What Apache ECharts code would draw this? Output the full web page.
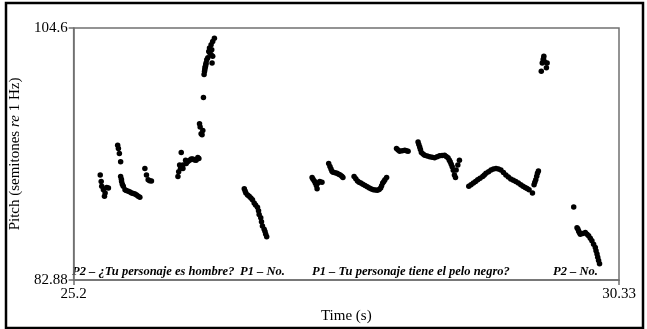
<!DOCTYPE html>
<html><head><meta charset="utf-8">
<script src="https://cdn.jsdelivr.net/npm/echarts@6/dist/echarts.min.js"></script>
<style>html,body{margin:0;padding:0;background:#fff}#c{width:647px;height:329px}</style>
</head><body><div id="c"></div>
<script>
// Time (s) and pitch (semitones re 1 Hz), one array pair per voiced stretch
const segA_t = [25.450,25.459,25.464,25.480,25.496,25.490,25.511,25.527];
const segA_p = [91.93,91.37,90.95,90.66,90.38,90.09,90.86,90.80];
const segB_t = [25.614,25.621,25.630,25.642,25.642,25.649,25.651,25.658,25.667,25.683,25.695,25.714,25.730,25.745,25.761,25.777,25.792,25.807,25.823];
const segB_p = [94.49,94.21,93.78,93.08,91.80,91.57,91.37,91.14,90.95,90.66,90.59,90.52,90.46,90.38,90.33,90.29,90.20,90.09,90.01];
const segC_t = [25.870,25.885,25.901,25.915,25.932];
const segC_p = [92.50,91.93,91.51,91.44,91.42];
const segD_t = [26.212,26.181,26.188,26.197,26.205,26.228,26.228,26.253,26.259,26.275,26.291,26.306,26.321,26.337,26.352,26.368,26.378,26.399,26.390,26.384,26.415,26.408,26.421,
  26.427,26.431,26.434,26.436,26.440,26.443,26.446,26.452,26.462,26.471,26.478,26.493,26.493,26.508,26.502,26.508,26.524,26.480,26.499];
const segD_p = [93.87,91.80,92.22,92.79,92.50,92.79,92.50,93.21,92.93,93.10,93.21,93.31,93.30,93.23,93.21,93.44,93.36,95.49,96.06,96.34,95.77,95.40,98.61,
  100.60,100.85,101.02,101.19,101.30,101.45,101.59,101.87,102.04,102.58,102.87,103.15,102.30,102.16,101.59,103.43,103.72,102.47,102.73];
const segE_t = [26.805,26.813,26.820,26.836,26.851,26.867,26.882,26.898,26.911,26.929,26.939,26.945,26.960,26.967,26.976,26.992,27.000,27.007,27.016];
const segE_p = [90.74,90.55,90.38,90.20,90.09,89.95,89.80,89.52,89.35,89.16,88.84,88.53,88.25,87.90,87.54,87.25,87.05,86.82,86.60];
const segF_t = [27.443,27.452,27.464,27.473,27.483,27.490,27.499,27.515,27.536,27.599,27.611,27.621,27.630,27.640,27.659,27.677,27.693,27.708,27.723,27.733];
const segF_p = [91.71,91.57,91.42,91.23,91.03,90.74,91.23,91.37,91.31,92.93,92.67,92.44,92.25,92.16,92.12,92.08,91.99,91.93,91.82,91.71];
const segG_t = [27.838,27.854,27.870,27.885,27.901,27.920,27.941,27.962,27.982,28.001,28.020,28.039,28.057,28.074,28.088,28.097,28.107,28.118,28.128,28.144];
const segG_p = [91.80,91.61,91.42,91.31,91.23,91.14,91.03,90.91,90.80,90.72,90.66,90.63,90.61,90.69,90.80,91.01,91.23,91.37,91.51,91.71];
const segH_t = [28.237,28.252,28.267,28.291,28.315,28.330,28.346];
const segH_p = [94.21,94.08,93.98,94.02,94.06,94.02,93.98];
const segI_t = [28.440,28.447,28.455,28.462,28.471,28.487,28.502,28.526,28.549,28.572,28.595,28.619,28.642,28.666,28.689,28.705,28.721,28.733,28.742,28.752,28.761,28.771,28.782,28.792,28.798,28.814,28.829];
const segI_p = [94.78,94.55,94.35,94.12,93.87,93.74,93.64,93.57,93.50,93.46,93.42,93.50,93.59,93.61,93.64,93.53,93.42,93.23,93.08,92.85,92.65,92.33,91.93,91.71,92.36,92.79,93.21];
const segJ_t = [28.917,28.938,28.960,28.981,29.001,29.023,29.048,29.063,29.079,29.103,29.126,29.149,29.173,29.196,29.219,29.243,29.266,29.289,29.312,29.336,29.359,29.383,29.406,29.427,29.447,29.465,29.484,29.516,29.531,29.538,29.547,29.556,29.563,29.572];
const segJ_p = [90.95,91.08,91.23,91.37,91.51,91.65,91.80,91.93,92.08,92.22,92.36,92.44,92.50,92.44,92.36,92.15,91.93,91.76,91.59,91.48,91.37,91.23,91.08,90.97,90.86,90.76,90.66,90.38,91.08,91.31,91.51,91.82,92.08,92.27];
const segK_t = [29.623,29.620,29.617,29.608,29.629,29.654,29.647,29.599];
const segK_p = [102.16,101.96,101.87,101.59,101.70,101.59,101.17,100.88];
const segL_t = [29.904,29.935,29.943,29.950,29.957,29.966,29.989,30.013,30.029,30.044,30.060,30.075,30.091,30.107,30.114,30.123,30.130,30.138,30.147];
const segL_p = [89.18,87.39,87.27,87.11,86.97,86.82,86.88,86.97,86.82,86.69,86.47,86.26,85.97,85.69,85.41,85.12,84.84,84.56,84.27];

const xTicks = [25.2, 30.33];
const yTicks = [82.88, 104.6];
const annotations = ['P2 – ¿Tu personaje es hombre?', 'P1 – No.', 'P1 – Tu personaje tiene el pelo negro?', 'P2 – No.'];

const segs = [[segA_t,segA_p],[segB_t,segB_p],[segC_t,segC_p],[segD_t,segD_p],[segE_t,segE_p],[segF_t,segF_p],
  [segG_t,segG_p],[segH_t,segH_p],[segI_t,segI_p],[segJ_t,segJ_p],[segK_t,segK_p],[segL_t,segL_p]];
const pts = [];
segs.forEach(([t,p]) => t.forEach((v,i) => pts.push([v,p[i]])));

const axisCol = '#707070';
const serif = '"Liberation Serif","DejaVu Serif",serif';
const annX = [72, 240, 312, 553];

const chart = echarts.init(document.getElementById('c'));
chart.setOption({
  animation: false,
  backgroundColor: '#fff',
  grid: { left: 70, right: 28, top: 28, bottom: 46, show: true, borderColor: axisCol, borderWidth: 1.5, backgroundColor: 'transparent' },
  xAxis: {
    type: 'value', min: xTicks[0], max: xTicks[1],
    name: 'Time (s)', nameLocation: 'middle', nameGap: 29,
    nameTextStyle: { fontFamily: serif, fontSize: 15, color: '#000' },
    axisLine: { show: true, lineStyle: { color: axisCol, width: 1.5 } },
    axisTick: { show: true, customValues: xTicks, length: 5, lineStyle: { color: axisCol, width: 1.5 } },
    axisLabel: { customValues: xTicks, fontFamily: serif, fontSize: 15, color: '#000', margin: 7, formatter: v => String(v) },
    splitLine: { show: false }
  },
  yAxis: {
    type: 'value', min: yTicks[0], max: yTicks[1],
    name: 'Pitch (semitones {i|re} 1 Hz)', nameLocation: 'middle', nameGap: 44, nameRotate: 90,
    nameTextStyle: { fontFamily: serif, fontSize: 15, color: '#000', rich: { i: { fontFamily: serif, fontSize: 15, fontStyle: 'italic', color: '#000' } } },
    axisLine: { show: true, lineStyle: { color: axisCol, width: 1.5 } },
    axisTick: { show: true, customValues: yTicks, length: 5, lineStyle: { color: axisCol, width: 1.5 } },
    axisLabel: { customValues: yTicks, fontFamily: serif, fontSize: 15, color: '#000', margin: 6, formatter: v => String(v) },
    splitLine: { show: false }
  },
  series: [{
    type: 'scatter', data: pts, symbol: 'circle', symbolSize: 5.5,
    itemStyle: { color: '#000', opacity: 1 }, silent: true
  }],
  graphic: [
    { type: 'rect', shape: { x: 6, y: 3, width: 637, height: 325 }, style: { fill: 'none', stroke: '#000', lineWidth: 2.5 }, silent: true },
    ...annotations.map((s, i) => ({
      type: 'text', left: annX[i], top: 265,
      style: { text: s, fontFamily: serif, fontSize: 12.5, fontStyle: 'italic', fontWeight: 'bold', fill: '#000' }
    }))
  ]
});
</script></body></html>
